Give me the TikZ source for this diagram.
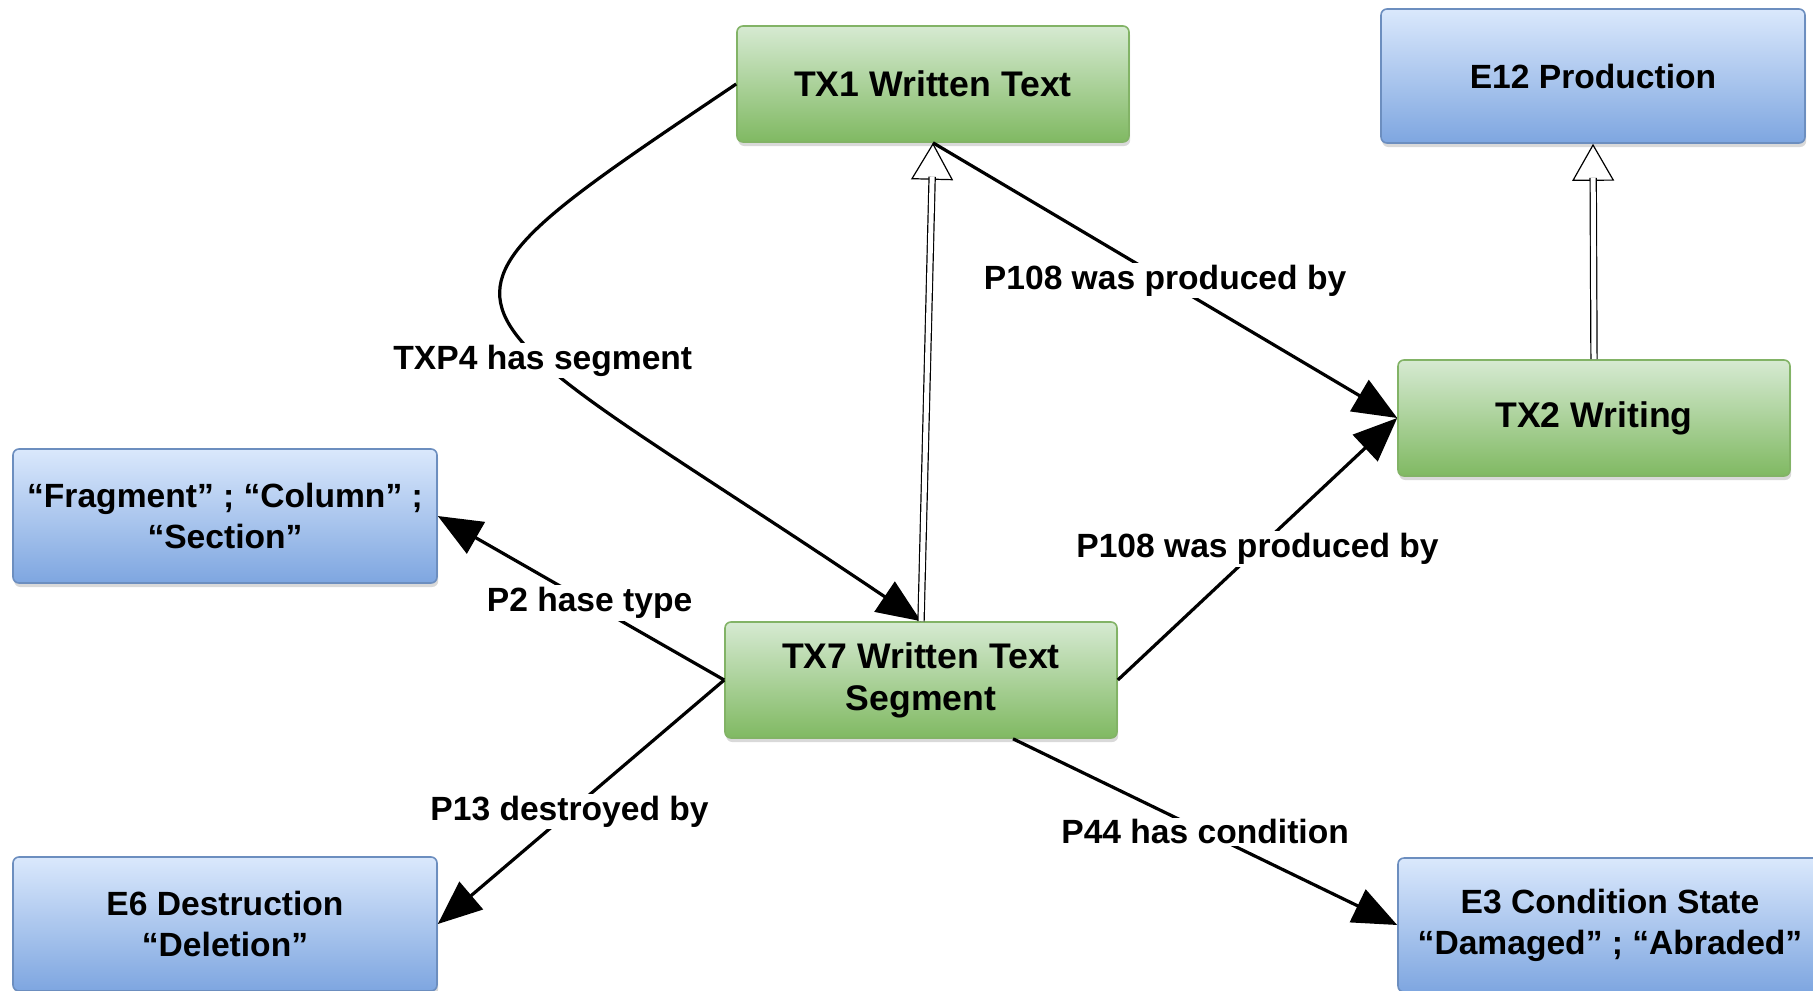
\documentclass[tikz,border=0pt]{standalone}
\usepackage{fontspec}
\setmainfont{Liberation Sans}
\usepackage{tikz}
\usetikzlibrary{arrows.meta}
\usetikzlibrary{calc}
\usetikzlibrary{shadows}

\definecolor{txgreentop}{RGB}{214,234,210}
\definecolor{txgreenbot}{RGB}{128,185,98}
\definecolor{txgreenline}{RGB}{130,179,102}
\definecolor{ecrmtop}{RGB}{218,232,252}
\definecolor{ecrmbot}{RGB}{126,166,224}
\definecolor{ecrmline}{RGB}{108,142,191}

\tikzset{
	cls/.style={rectangle, rounded corners=3pt, line width=0.8pt, align=center, inner sep=2pt,
		drop shadow={shadow xshift=0.6pt, shadow yshift=-2pt, opacity=0.3}},
	txcls/.style={cls, draw=txgreenline, top color=txgreentop, bottom color=txgreenbot,
		font=\bfseries\fontsize{17.8}{21}\selectfont,
		minimum width=196pt, minimum height=58pt},
	ecls/.style={cls, draw=ecrmline, top color=ecrmtop, bottom color=ecrmbot,
		font=\bfseries\fontsize{16.8}{20.5}\selectfont,
		minimum width=212pt, minimum height=67pt},
	prop/.style={line width=1.6pt, -{Triangle[length=22pt,width=18pt]}},
	lbl/.style={fill=white, inner sep=1pt, font=\bfseries\fontsize{16.8}{20.5}\selectfont},
	isa/.style={line width=0.6pt, double, double distance=2.5pt},
	isatip/.style={line width=0.6pt, -{Triangle[fill=white,length=18.5pt,width=21pt]}}
}

\begin{document}
\begin{tikzpicture}[x=0.5pt,y=0.5pt]
		\useasboundingbox (0,0) rectangle (1813,-990);
		\clip (0,0) rectangle (1813,-990);
		\path
		(933,-84) node[txcls](tx1) {TX1 Written Text}
		(1593,-76) node[ecls](e12) {E12 Production}
		(1594,-418) node[txcls](tx2) {TX2 Writing}
		(225,-516) node[ecls](frag) {“Fragment” ; “Column” ;\\“Section”}
		(921,-680) node[txcls](tx7) {TX7 Written Text\\Segment}
		(225,-924) node[ecls](e6) {E6 Destruction\\“Deletion”}
		(1610,-925) node[ecls](e3) {E3 Condition State\\“Damaged” ; “Abraded”};
		\draw[prop] (tx1.west) .. controls +(214:430) and +(146:600) .. node[lbl,pos=0.61] {TXP4 has segment} (tx7.north);
		\draw[prop] (tx1.south) to node[lbl] {P108 was produced by} (tx2.west);
		\draw[prop] (tx7.east) to node[lbl] {P108 was produced by} (tx2.west);
		\draw[prop] (tx7.west) to node[lbl,pos=0.47] {P2 hase type} (frag.east);
		\draw[prop] (tx7.west) to node[lbl,pos=0.54] {P13 destroyed by} (e6.east);
		\draw[prop] ([xshift=46pt]tx7.south) to node[lbl] {P44 has condition} (e3.west);
		\draw[isatip] ($(tx1.south)!30pt!(tx7.north)$) -- (tx1.south);
		\draw[isa] (tx7.north) -- ($(tx1.south)!17pt!(tx7.north)$);
		\draw[isatip] ($(e12.south)!30pt!(tx2.north)$) -- (e12.south);
		\draw[isa] (tx2.north) -- ($(e12.south)!17pt!(tx2.north)$);
	\end{tikzpicture}
\end{document}
